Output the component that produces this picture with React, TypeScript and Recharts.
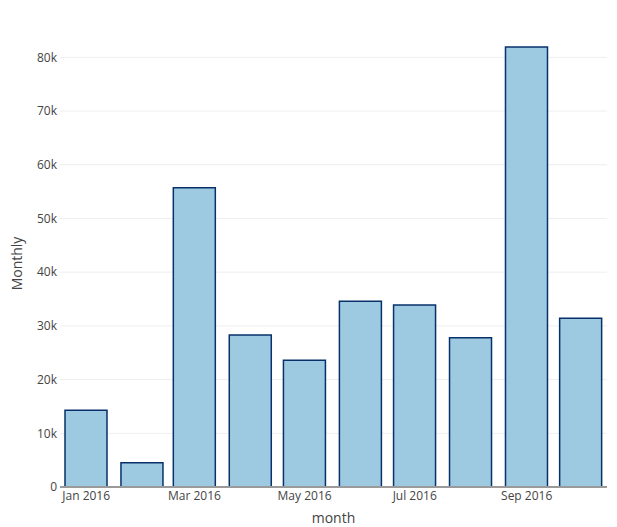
// Monthly totals — bar chart, date x-axis like the Plotly original

import { BarChart, Bar, XAxis, YAxis, CartesianGrid } from 'recharts'

const months = [
  '2016-01-01', '2016-02-01', '2016-03-01', '2016-04-01', '2016-05-01',
  '2016-06-01', '2016-07-01', '2016-08-01', '2016-09-01', '2016-10-01',
]
const monthly = [14300, 4500, 55700, 28300, 23600, 34600, 33900, 27800, 81900, 31400]
const xTicks = ['2016-01-01', '2016-03-01', '2016-05-01', '2016-07-01', '2016-09-01']
const yTicks = [0, 10000, 20000, 30000, 40000, 50000, 60000, 70000, 80000]

const MON = ['Jan', 'Feb', 'Mar', 'Apr', 'May', 'Jun', 'Jul', 'Aug', 'Sep', 'Oct', 'Nov', 'Dec']
const DAY = 86400000
const ts = (s: string) => Date.parse(s + 'T00:00:00Z')

const data = months.map((m, i) => ({ t: ts(m), value: monthly[i] }))
const xDomain = [ts(months[0]) - 14.5 * DAY, ts(months[months.length - 1]) + 14.5 * DAY]

const font = '"Open Sans", sans-serif'

export default function App() {
  document.body.style.margin = '0'
  return (
    <div style={{ width: 617, height: 527, background: '#fff', fontFamily: font }}>
      <BarChart width={617} height={527} data={data} margin={{ top: 24, right: 10, left: 0, bottom: 0 }}>
        {/* solo líneas en los ticks, sin la del borde superior */}
        <CartesianGrid vertical={false} horizontalValues={yTicks.slice(1)} stroke="#eeeeee" strokeWidth={1} />
        <XAxis
          dataKey="t"
          type="number"
          scale="linear"
          domain={xDomain}
          ticks={xTicks.map(ts)}
          allowDataOverflow
          tickFormatter={(v: number) => {
            const d = new Date(v)
            return `${MON[d.getUTCMonth()]} ${d.getUTCFullYear()}`
          }}
          tick={{ fill: '#444', fontSize: 12, fontFamily: font }}
          tickSize={0}
          tickMargin={4}
          axisLine={{ stroke: '#9a9a9a', strokeWidth: 2 }}
          height={40}
          label={{ value: 'month', position: 'insideBottom', offset: 4, fill: '#444', fontSize: 14, fontFamily: font }}
        />
        <YAxis
          domain={[0, 86200]}
          ticks={yTicks}
          allowDataOverflow
          tickFormatter={(v: number) => (v === 0 ? '0' : `${v / 1000}k`)}
          tick={{ fill: '#444', fontSize: 12, fontFamily: font }}
          tickSize={0}
          tickMargin={3}
          axisLine={false}
          width={60}
          label={{
            value: 'Monthly', angle: -90, position: 'insideLeft', offset: 17, dy: 8,
            fill: '#444', fontSize: 14, fontFamily: font, style: { textAnchor: 'middle' },
          }}
        />
        <Bar
          dataKey="value"
          barSize={42}
          fill="#9ecae1"
          stroke="#08306b"
          strokeWidth={1.5}
          isAnimationActive={false}
        />
      </BarChart>
    </div>
  )
}
